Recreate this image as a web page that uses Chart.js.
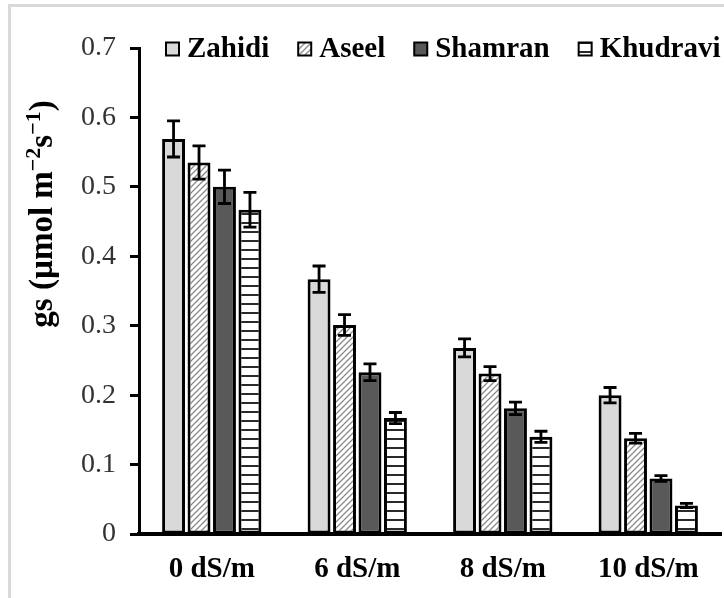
<!DOCTYPE html>
<html>
<head>
<meta charset="utf-8">
<script src="https://cdn.jsdelivr.net/npm/chart.js@4.4.1/dist/chart.umd.min.js"></script>
<style>
  html, body { margin: 0; padding: 0; background: #fff; }
  #wrap { position: relative; width: 724px; height: 598px; overflow: hidden; }
  #frame { position: absolute; left: 8px; top: 4px; right: -10px; bottom: -10px;
           border-top: 3px solid #d9d9d9; border-left: 3px solid #d9d9d9; }
  canvas { position: absolute; left: 0; top: 0; }
</style>
</head>
<body>
<div id="wrap">
  <div id="frame"></div>
  <canvas id="c" width="724" height="598"></canvas>
</div>
<script>
// Salinity levels and stomatal conductance (mean and error) per cultivar
const categories = ['0 dS/m', '6 dS/m', '8 dS/m', '10 dS/m'];
const seriesNames = ['Zahidi', 'Aseel', 'Shamran', 'Khudravi'];
const zahidi      = [0.569, 0.367, 0.268, 0.200];
const zahidiErr   = [0.026, 0.019, 0.013, 0.011];
const aseel       = [0.535, 0.301, 0.231, 0.138];
const aseelErr    = [0.024, 0.015, 0.010, 0.007];
const shamran     = [0.500, 0.233, 0.181, 0.080];
const shamranErr  = [0.024, 0.012, 0.009, 0.004];
const khudravi    = [0.467, 0.167, 0.140, 0.041];
const khudraviErr = [0.025, 0.008, 0.008, 0.003];
const yTickValues = [0, 0.1, 0.2, 0.3, 0.4, 0.5, 0.6, 0.7];

const SERIF = "'Liberation Serif', 'Times New Roman', serif";

// Fill patterns
function makeTile(w, h, draw) {
  const t = document.createElement('canvas');
  t.width = w; t.height = h;
  const g = t.getContext('2d');
  draw(g, w, h);
  return document.getElementById('c').getContext('2d').createPattern(t, 'repeat');
}
const hatchDiag = makeTile(6, 6, (g, w, h) => {
  g.fillStyle = '#fff'; g.fillRect(0, 0, w, h);
  g.strokeStyle = '#8a8a8a'; g.lineWidth = 1.3;
  g.beginPath();
  g.moveTo(-1, h + 1); g.lineTo(w + 1, -1);
  g.moveTo(-1, 1); g.lineTo(1, -1);
  g.moveTo(w - 1, h + 1); g.lineTo(w + 1, h - 1);
  g.stroke();
});
const hatchHoriz = makeTile(8, 9, (g, w, h) => {
  g.fillStyle = '#fff'; g.fillRect(0, 0, w, h);
  g.fillStyle = '#2a2a2a'; g.fillRect(0, 6, w, 2);
});

const fills = ['#d9d9d9', hatchDiag, '#595959', hatchHoriz];
const values = [zahidi, aseel, shamran, khudravi];
const errors = [zahidiErr, aseelErr, shamranErr, khudraviErr];

const datasets = seriesNames.map((name, i) => ({
  label: name,
  data: values[i],
  errors: errors[i],
  backgroundColor: fills[i],
  borderColor: '#000',
  borderWidth: 3,
  borderSkipped: false,
  categoryPercentage: 0.70,
  barPercentage: 0.90
}));

// Error bars drawn from the value ± error through the y scale
const errorBars = {
  id: 'errorBars',
  afterDatasetsDraw(chart) {
    const ctx = chart.ctx;
    const y = chart.scales.y;
    ctx.save();
    ctx.strokeStyle = '#000';
    ctx.lineWidth = 2.8;
    chart.data.datasets.forEach((ds, di) => {
      const meta = chart.getDatasetMeta(di);
      meta.data.forEach((bar, j) => {
        const v = ds.data[j], e = ds.errors[j];
        const top = y.getPixelForValue(v + e);
        const bot = y.getPixelForValue(v - e);
        const half = 6.5;
        ctx.beginPath();
        ctx.moveTo(bar.x, top); ctx.lineTo(bar.x, bot);
        ctx.moveTo(bar.x - half, top); ctx.lineTo(bar.x + half, top);
        ctx.moveTo(bar.x - half, bot); ctx.lineTo(bar.x + half, bot);
        ctx.stroke();
      });
    });
    ctx.restore();
  }
};

// Legend laid over the top of the plot
const topLegend = {
  id: 'topLegend',
  afterDraw(chart) {
    const ctx = chart.ctx;
    ctx.save();
    ctx.font = "bold 29px " + SERIF;
    ctx.textBaseline = 'middle';
    ctx.fillStyle = '#000';
    let x = 166;
    const cy = 49;
    const box = 13;
    chart.data.datasets.forEach(ds => {
      ctx.fillStyle = ds.backgroundColor;
      ctx.fillRect(x, cy - box / 2, box, box);
      ctx.strokeStyle = '#000';
      ctx.lineWidth = 2;
      ctx.strokeRect(x, cy - box / 2, box, box);
      x += box + 8;
      ctx.fillStyle = '#000';
      ctx.fillText(ds.label, x, cy + 1);
      x += ctx.measureText(ds.label).width + 29;
    });
    ctx.restore();
  }
};

// Rotated axis title with superscript exponents
const yTitle = {
  id: 'yTitle',
  afterDraw(chart) {
    const ctx = chart.ctx;
    const parts = [
      { t: 'gs (\u00b5mol m', sup: false },
      { t: '\u22122', sup: true },
      { t: 's', sup: false },
      { t: '\u22121', sup: true },
      { t: ')', sup: false }
    ];
    const size = 33, supSize = 22;
    ctx.save();
    ctx.fillStyle = '#000';
    ctx.textBaseline = 'alphabetic';
    let total = 0;
    parts.forEach(p => {
      ctx.font = 'bold ' + (p.sup ? supSize : size) + 'px ' + SERIF;
      p.w = ctx.measureText(p.t).width;
      total += p.w;
    });
    ctx.translate(52, 214);
    ctx.rotate(-Math.PI / 2);
    let x = -total / 2;
    parts.forEach(p => {
      ctx.font = 'bold ' + (p.sup ? supSize : size) + 'px ' + SERIF;
      ctx.fillText(p.t, x, p.sup ? -12 : 0);
      x += p.w;
    });
    ctx.restore();
  }
};

new Chart(document.getElementById('c'), {
  type: 'bar',
  data: { labels: categories, datasets },
  options: {
    responsive: false,
    devicePixelRatio: 1,
    animation: false,
    layout: { padding: { top: 48, right: 3, left: 0, bottom: 0 } },
    plugins: { legend: { display: false }, tooltip: { enabled: false } },
    scales: {
      x: {
        grid: { display: false, drawTicks: false },
        border: { display: true, color: '#000', width: 4 },
        ticks: {
          color: '#000',
          padding: 18,
          font: { family: SERIF, size: 29, weight: 'bold' }
        },
        afterFit(scale) { scale.height = 64; }
      },
      y: {
        min: 0, max: 0.7,
        afterBuildTicks(scale) { scale.ticks = yTickValues.map(v => ({ value: v })); },
        grid: { display: true, drawOnChartArea: false, drawTicks: true,
                tickLength: 9, tickWidth: 3, tickColor: '#000' },
        border: { display: true, color: '#000', width: 3 },
        ticks: {
          color: '#333',
          padding: 14,
          font: { family: SERIF, size: 28 },
          callback: v => (v === 0 ? '0' : v.toFixed(1))
        },
        afterFit(scale) { scale.width = 139; }
      }
    }
  },
  plugins: [errorBars, topLegend, yTitle]
});
</script>
</body>
</html>
